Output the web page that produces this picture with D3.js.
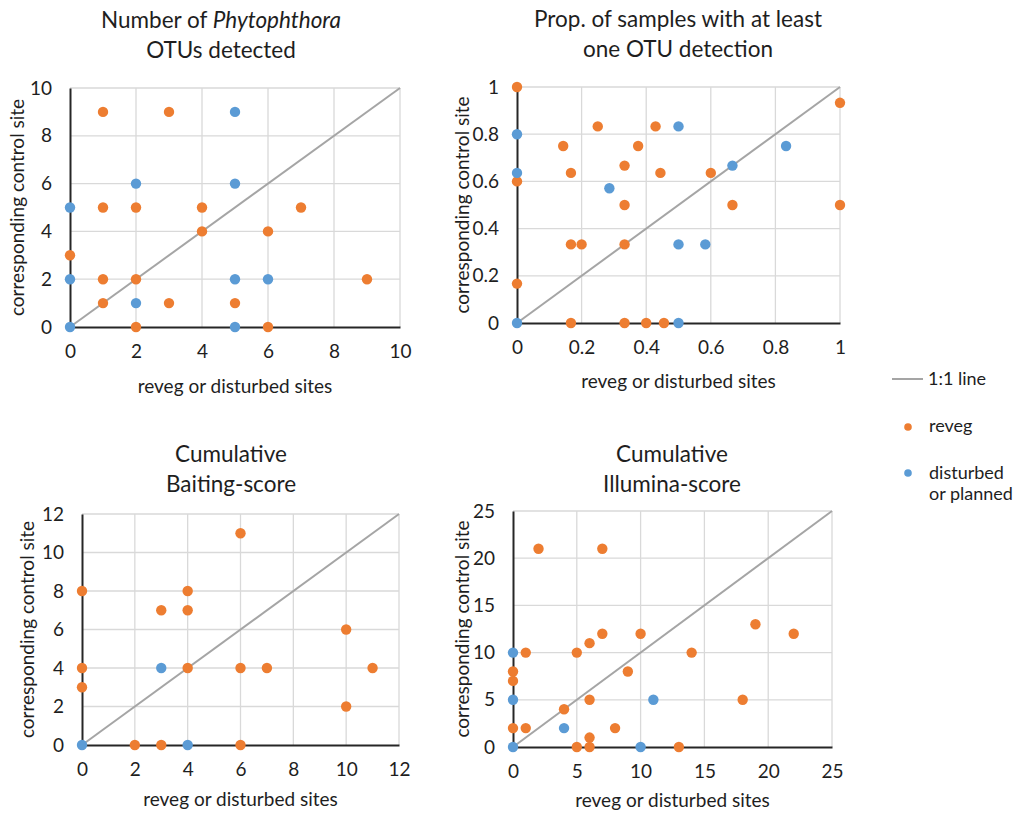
<!DOCTYPE html>
<html>
<head>
<meta charset="utf-8">
<script src="https://cdn.jsdelivr.net/npm/d3@7"></script>
<style>
  body { margin: 0; background: #fff; }
  text { font-family: Lato, "Open Sans", sans-serif; fill: #1e1e1e; }
</style>
</head>
<body>
<div id="chart"></div>
<script>
// values, as [reveg or disturbed site, control site]
const otuReveg = [[1,9],[3,9],[1,5],[2,5],[4,5],[7,5],[4,4],[6,4],[0,3],[1,2],[2,2],[9,2],[1,1],[3,1],[5,1],[2,0],[6,0]];
const otuDisturbed = [[5,9],[2,6],[5,6],[0,5],[0,2],[5,2],[6,2],[2,1],[0,0],[5,0]];
const otuTicks = [0, 2, 4, 6, 8, 10];

const propReveg = [[0,1],[1,0.933],[0.25,0.833],[0.429,0.833],[0.143,0.75],[0.375,0.75],[0.333,0.667],
  [0.167,0.636],[0.444,0.636],[0.6,0.636],[0,0.6],[0.333,0.5],[0.667,0.5],[1,0.5],
  [0.167,0.333],[0.2,0.333],[0.333,0.333],[0,0.167],[0.167,0],[0.333,0],[0.4,0],[0.455,0]];
const propDisturbed = [[0,0.8],[0,0.636],[0.5,0.833],[0.286,0.571],[0.667,0.667],[0.833,0.75],
  [0.5,0.333],[0.583,0.333],[0,0],[0.5,0]];
const propTicks = [0, 0.2, 0.4, 0.6, 0.8, 1];

const baitReveg = [[0,8],[0,4],[0,3],[3,7],[4,8],[4,7],[4,4],[6,11],[6,4],[7,4],[10,6],[11,4],[10,2],[2,0],[3,0],[6,0]];
const baitDisturbed = [[3,4],[0,0],[4,0]];
const baitTicks = [0, 2, 4, 6, 8, 10, 12];

const illuReveg = [[2,21],[7,21],[19,13],[22,12],[7,12],[10,12],[6,11],[1,10],[5,10],[14,10],[9,8],[0,8],[0,7],
  [6,5],[18,5],[4,4],[0,2],[1,2],[8,2],[6,1],[5,0],[6,0],[13,0]];
const illuDisturbed = [[0,10],[0,5],[11,5],[4,2],[0,0],[10,0]];
const illuTicks = [0, 5, 10, 15, 20, 25];

const orange = "#ed7d31";
const blue = "#5b9bd5";

const panels = [
  { title: [["Number of ", false], ["Phytophthora", true]], title2: "OTUs detected",
    reveg: otuReveg, disturbed: otuDisturbed, ticks: otuTicks,
    left: 70, right: 400, top: 88, bottom: 327, titleX: 221, titleY: 28, yTitleX: 17, xTitleY: 393 },
  { title: [["Prop. of samples with at least", false]], title2: "one OTU detection",
    reveg: propReveg, disturbed: propDisturbed, ticks: propTicks,
    left: 517, right: 840, top: 87, bottom: 323, titleX: 678, titleY: 27, yTitleX: 462, xTitleY: 388 },
  { title: [["Cumulative", false]], title2: "Baiting-score",
    reveg: baitReveg, disturbed: baitDisturbed, ticks: baitTicks,
    left: 82, right: 399, top: 514, bottom: 745, titleX: 231, titleY: 462, yTitleX: 27, xTitleY: 806 },
  { title: [["Cumulative", false]], title2: "Illumina-score",
    reveg: illuReveg, disturbed: illuDisturbed, ticks: illuTicks,
    left: 513, right: 832, top: 511, bottom: 747, titleX: 672, titleY: 462, yTitleX: 462, xTitleY: 807 }
];

const svg = d3.select("#chart").append("svg")
  .attr("width", 1019)
  .attr("height", 814);

panels.forEach(p => {
  const max = p.ticks[p.ticks.length - 1];
  const x = d3.scaleLinear().domain([0, max]).range([p.left, p.right]);
  const y = d3.scaleLinear().domain([0, max]).range([p.bottom, p.top]);
  const g = svg.append("g");

  // gridlines
  g.append("g").selectAll("line").data(p.ticks.slice(1)).enter().append("line")
    .attr("x1", d => x(d)).attr("x2", d => x(d))
    .attr("y1", p.top).attr("y2", p.bottom)
    .attr("stroke", "#d9d9d9").attr("stroke-width", 1.3);
  g.append("g").selectAll("line").data(p.ticks.slice(1)).enter().append("line")
    .attr("y1", d => y(d)).attr("y2", d => y(d))
    .attr("x1", p.left).attr("x2", p.right)
    .attr("stroke", "#d9d9d9").attr("stroke-width", 1.3);

  // 1:1 line
  g.append("line")
    .attr("x1", x(0)).attr("y1", y(0))
    .attr("x2", x(max)).attr("y2", y(max))
    .attr("stroke", "#a5a5a5").attr("stroke-width", 2);

  // axes
  let xAxis = d3.axisBottom(x).tickValues(p.ticks).tickSize(0).tickPadding(18).tickFormat(d => String(d));
  let yAxis = d3.axisLeft(y).tickValues(p.ticks).tickSize(0).tickPadding(18).tickFormat(d => String(d));
  g.append("g").attr("transform", `translate(0, ${p.bottom})`).call(xAxis)
    .call(a => a.select(".domain").attr("stroke", "#262626").attr("stroke-width", 2))
    .selectAll("text").style("font-size", "19px").attr("fill", "#1e1e1e");
  g.append("g").attr("transform", `translate(${p.left}, 0)`).call(yAxis)
    .call(a => a.select(".domain").attr("stroke", "#262626").attr("stroke-width", 2))
    .selectAll("text").style("font-size", "19px").attr("fill", "#1e1e1e");

  // points
  g.append("g").selectAll("circle").data(p.reveg).enter().append("circle")
    .attr("cx", d => x(d[0])).attr("cy", d => y(d[1])).attr("r", 5.2).attr("fill", orange);
  g.append("g").selectAll("circle").data(p.disturbed).enter().append("circle")
    .attr("cx", d => x(d[0])).attr("cy", d => y(d[1])).attr("r", 5.2).attr("fill", blue);

  // titles
  let t = g.append("text").attr("x", p.titleX).attr("y", p.titleY)
    .attr("text-anchor", "middle").style("font-size", "22.5px");
  p.title.forEach(part => {
    t.append("tspan").text(part[0]).style("font-style", part[1] ? "italic" : "normal");
  });
  g.append("text").attr("x", p.titleX).attr("y", p.titleY + 30)
    .attr("text-anchor", "middle").style("font-size", "22.5px").text(p.title2);

  g.append("text")
    .attr("x", (p.left + p.right) / 2).attr("y", p.xTitleY)
    .attr("text-anchor", "middle").style("font-size", "19px")
    .text("reveg or disturbed sites");
  g.append("text")
    .attr("transform", `translate(${p.yTitleX}, ${(p.top + p.bottom) / 2}) rotate(-90)`)
    .attr("dy", "0.35em")
    .attr("text-anchor", "middle").style("font-size", "19px")
    .text("corresponding control site");
});

// legend
let legend = svg.append("g");
legend.append("line").attr("x1", 892).attr("x2", 923).attr("y1", 379).attr("y2", 379)
  .attr("stroke", "#a5a5a5").attr("stroke-width", 2);
legend.append("text").attr("x", 928).attr("y", 385).style("font-size", "18px").text("1:1 line");
legend.append("circle").attr("cx", 908).attr("cy", 427).attr("r", 3.8).attr("fill", orange);
legend.append("text").attr("x", 929).attr("y", 432).style("font-size", "18px").text("reveg");
legend.append("circle").attr("cx", 908).attr("cy", 473).attr("r", 3.8).attr("fill", blue);
legend.append("text").attr("x", 929).attr("y", 479).style("font-size", "18px").text("disturbed");
legend.append("text").attr("x", 929).attr("y", 500).style("font-size", "18px").text("or planned");
</script>
</body>
</html>
